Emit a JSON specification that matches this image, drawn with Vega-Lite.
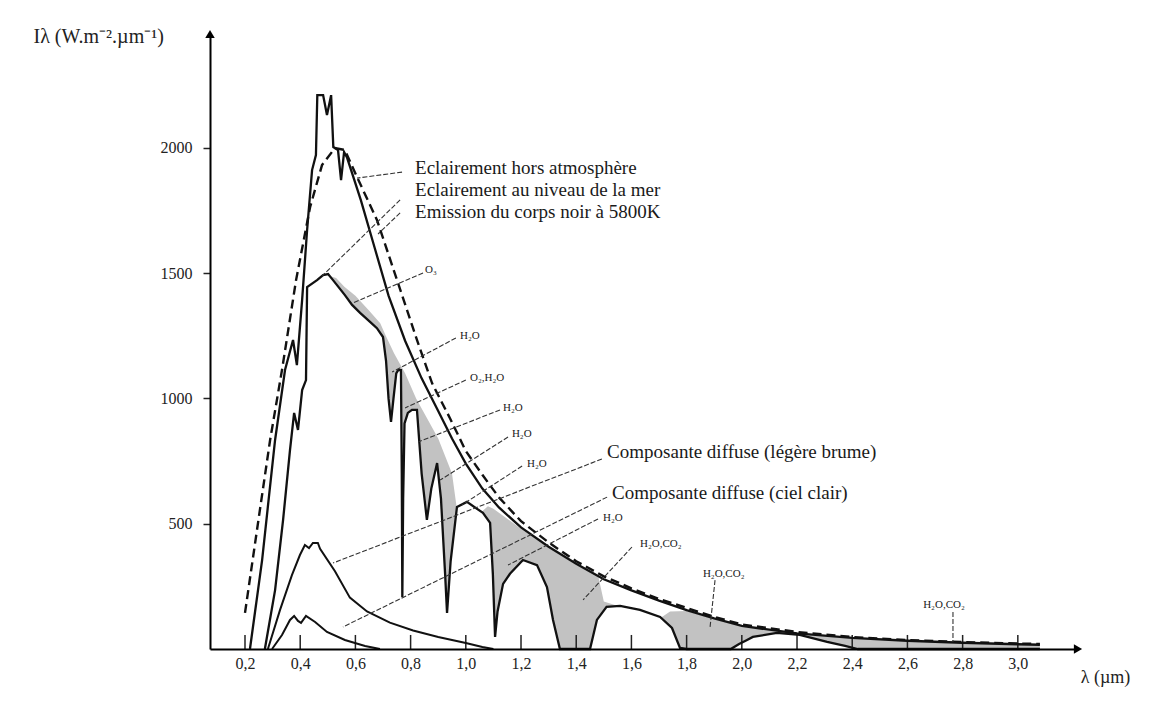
{
  "$schema": "https://vega.github.io/schema/vega-lite/v6.json",
  "autosize": {"type": "none"},
  "padding": {"left": 210, "top": 34, "right": 89, "bottom": 53},
  "width": 868,
  "height": 615,
  "background": "white",
  "config": {
    "view": {"stroke": null},
    "font": "Liberation Serif",
    "text": {"font": "Liberation Serif", "color": "#1a1a1a"}
  },
  "datasets": {
    "et": [
      {"x":0.218,"y":0},{"x":0.262,"y":355},{"x":0.309,"y":834},{"x":0.345,"y":1113},{"x":0.374,"y":1233},{"x":0.388,"y":1133},{"x":0.407,"y":1393},{"x":0.425,"y":1672},{"x":0.443,"y":1911},{"x":0.457,"y":1971},{"x":0.462,"y":2210},{"x":0.483,"y":2210},{"x":0.497,"y":2131},{"x":0.512,"y":2210},{"x":0.52,"y":2003},{"x":0.537,"y":1991},{"x":0.548,"y":1871},{"x":0.559,"y":1983},{"x":0.57,"y":1960},{"x":0.62,"y":1790},{"x":0.67,"y":1600},{"x":0.72,"y":1410},{"x":0.78,"y":1230},{"x":0.84,"y":1080},{"x":0.9,"y":950},{"x":0.95,"y":840},{"x":1.0,"y":740},{"x":1.06,"y":640},{"x":1.12,"y":565},{"x":1.2,"y":485},{"x":1.3,"y":408},{"x":1.4,"y":340},{"x":1.5,"y":278},{"x":1.6,"y":234},{"x":1.7,"y":193},{"x":1.8,"y":155},{"x":1.9,"y":122},{"x":2.0,"y":92},{"x":2.2,"y":62},{"x":2.4,"y":44},{"x":2.6,"y":33},{"x":2.8,"y":25},{"x":3.0,"y":19},{"x":3.08,"y":17}
    ],
    "bb": [
      {"x":0.2,"y":144},{"x":0.254,"y":555},{"x":0.291,"y":834},{"x":0.334,"y":1113},{"x":0.385,"y":1472},{"x":0.436,"y":1764},{"x":0.479,"y":1931},{"x":0.526,"y":1999},{"x":0.562,"y":1991},{"x":0.606,"y":1883},{"x":0.678,"y":1712},{"x":0.751,"y":1472},{"x":0.823,"y":1233},{"x":0.878,"y":1060},{"x":0.943,"y":920},{"x":1.0,"y":790},{"x":1.06,"y":695},{"x":1.12,"y":605},{"x":1.2,"y":510},{"x":1.3,"y":425},{"x":1.4,"y":350},{"x":1.5,"y":290},{"x":1.6,"y":242},{"x":1.7,"y":200},{"x":1.8,"y":164},{"x":1.9,"y":128},{"x":2.0,"y":98},{"x":2.2,"y":68},{"x":2.4,"y":48},{"x":2.6,"y":36},{"x":2.8,"y":28},{"x":3.0,"y":22},{"x":3.08,"y":20}
    ],
    "sea": [
      {"x":0.272,"y":0},{"x":0.309,"y":235},{"x":0.338,"y":515},{"x":0.363,"y":794},{"x":0.378,"y":942},{"x":0.392,"y":874},{"x":0.407,"y":1033},{"x":0.421,"y":1073},{"x":0.425,"y":1444},{"x":0.461,"y":1472},{"x":0.483,"y":1492},{"x":0.501,"y":1496},{"x":0.519,"y":1472},{"x":0.562,"y":1412},{"x":0.588,"y":1373},{"x":0.617,"y":1341},{"x":0.653,"y":1305},{"x":0.678,"y":1280},{"x":0.7,"y":1245},{"x":0.711,"y":1150},{"x":0.72,"y":1000},{"x":0.729,"y":906},{"x":0.738,"y":1000},{"x":0.748,"y":1100},{"x":0.755,"y":1113},{"x":0.765,"y":1113},{"x":0.768,"y":700},{"x":0.77,"y":207},{"x":0.773,"y":600},{"x":0.778,"y":900},{"x":0.79,"y":942},{"x":0.805,"y":954},{"x":0.823,"y":954},{"x":0.84,"y":700},{"x":0.859,"y":515},{"x":0.875,"y":640},{"x":0.896,"y":742},{"x":0.91,"y":600},{"x":0.925,"y":300},{"x":0.932,"y":144},{"x":0.945,"y":350},{"x":0.968,"y":567},{"x":1.004,"y":587},{"x":1.062,"y":543},{"x":1.088,"y":503},{"x":1.098,"y":300},{"x":1.106,"y":48},{"x":1.115,"y":150},{"x":1.135,"y":260},{"x":1.16,"y":300},{"x":1.207,"y":355},{"x":1.258,"y":335},{"x":1.294,"y":247},{"x":1.316,"y":116},{"x":1.341,"y":0},{"x":1.45,"y":0},{"x":1.475,"y":116},{"x":1.51,"y":168},{"x":1.559,"y":172},{"x":1.631,"y":156},{"x":1.704,"y":128},{"x":1.747,"y":84},{"x":1.776,"y":4},{"x":1.8,"y":0},{"x":1.96,"y":0},{"x":1.99,"y":20},{"x":2.012,"y":32},{"x":2.04,"y":48},{"x":2.127,"y":64},{"x":2.21,"y":56},{"x":2.309,"y":28},{"x":2.374,"y":12},{"x":2.42,"y":0},{"x":3.08,"y":0}
    ],
    "env": [
      {"x":0.50,"y":1490},{"x":0.53,"y":1480},{"x":0.56,"y":1445},{"x":0.6,"y":1410},{"x":0.65,"y":1350},{"x":0.69,"y":1300},{"x":0.71,"y":1250},{"x":0.74,"y":1180},{"x":0.78,"y":1100},{"x":0.82,"y":1000},{"x":0.86,"y":920},{"x":0.9,"y":840},{"x":0.95,"y":700},{"x":0.97,"y":540},{"x":1.04,"y":530},{"x":1.08,"y":570},{"x":1.1,"y":560},{"x":1.15,"y":520},{"x":1.2,"y":480},{"x":1.3,"y":405},{"x":1.4,"y":336},{"x":1.48,"y":290},{"x":1.5,"y":190},{"x":1.7,"y":120},{"x":1.74,"y":150},{"x":1.8,"y":152},{"x":1.9,"y":120},{"x":2.0,"y":90},{"x":2.2,"y":60},{"x":2.4,"y":43},{"x":2.6,"y":32},{"x":2.8,"y":24},{"x":3.0,"y":18},{"x":3.08,"y":16}
    ],
    "brume": [
      {"x":0.283,"y":0},{"x":0.327,"y":156},{"x":0.37,"y":295},{"x":0.399,"y":375},{"x":0.417,"y":415},{"x":0.432,"y":403},{"x":0.446,"y":423},{"x":0.464,"y":423},{"x":0.472,"y":400},{"x":0.526,"y":310},{"x":0.58,"y":205},{"x":0.642,"y":150},{"x":0.725,"y":105},{"x":0.809,"y":74},{"x":0.9,"y":48},{"x":1.0,"y":24},{"x":1.06,"y":8},{"x":1.1,"y":0}
    ],
    "clair": [
      {"x":0.298,"y":0},{"x":0.334,"y":56},{"x":0.363,"y":116},{"x":0.378,"y":132},{"x":0.392,"y":112},{"x":0.403,"y":104},{"x":0.421,"y":132},{"x":0.454,"y":108},{"x":0.497,"y":68},{"x":0.562,"y":36},{"x":0.635,"y":12},{"x":0.689,"y":0}
    ],
    "leaders": [
      {"x":0.769,"y":1903,"x2":0.606,"y2":1879},
      {"x":0.762,"y":1792,"x2":0.479,"y2":1488},
      {"x":0.762,"y":1740,"x2":0.682,"y2":1656},
      {"x":0.845,"y":1500,"x2":0.591,"y2":1381},
      {"x":0.964,"y":1241,"x2":0.733,"y2":1105},
      {"x":1.0,"y":1073,"x2":0.78,"y2":962},
      {"x":1.124,"y":954,"x2":0.827,"y2":826},
      {"x":1.153,"y":846,"x2":0.907,"y2":674},
      {"x":1.204,"y":730,"x2":0.986,"y2":575},
      {"x":1.479,"y":519,"x2":1.153,"y2":335},
      {"x":1.602,"y":407,"x2":1.425,"y2":196},
      {"x":1.903,"y":275,"x2":1.885,"y2":88},
      {"x":2.765,"y":148,"x2":2.765,"y2":28},
      {"x":1.493,"y":758,"x2":0.519,"y2":343},
      {"x":1.512,"y":606,"x2":0.555,"y2":88}
    ],
    "bigLabels": [
      {"x":0.816,"y":1919,"label":"Eclairement hors atmosphère"},
      {"x":0.816,"y":1831,"label":"Eclairement au niveau de la mer"},
      {"x":0.816,"y":1744,"label":"Emission du corps noir à 5800K"},
      {"x":1.512,"y":786,"label":"Composante diffuse (légère brume)"},
      {"x":1.53,"y":622,"label":"Composante diffuse (ciel clair)"}
    ],
    "smallLabels": [
      {"x":0.852,"y":1512,"label":"O₃"},
      {"x":0.979,"y":1249,"label":"H₂O"},
      {"x":1.015,"y":1081,"label":"O₂,H₂O"},
      {"x":1.135,"y":962,"label":"H₂O"},
      {"x":1.167,"y":858,"label":"H₂O"},
      {"x":1.222,"y":738,"label":"H₂O"},
      {"x":1.497,"y":523,"label":"H₂O"},
      {"x":1.631,"y":419,"label":"H₂O,CO₂"},
      {"x":1.859,"y":299,"label":"H₂O,CO₂"},
      {"x":2.657,"y":176,"label":"H₂O,CO₂"}
    ],
    "ticks": [
      {"x":0.2,"y":0},{"x":0.4,"y":0},{"x":0.6,"y":0},{"x":0.8,"y":0},{"x":1.0,"y":0},{"x":1.2,"y":0},{"x":1.4,"y":0},{"x":1.6,"y":0},{"x":1.8,"y":0},{"x":2.0,"y":0},{"x":2.2,"y":0},{"x":2.4,"y":0},{"x":2.6,"y":0},{"x":2.8,"y":0},{"x":3.0,"y":0}
    ],
    "yEnd": [{"x":0.0732,"y":2454}],
    "xEnd": [{"x":3.218,"y":0}]
  },
  "encoding": {
    "x": {
      "field": "x", "type": "quantitative",
      "scale": {"domain": [0.0732, 3.218], "nice": false, "zero": false},
      "axis": {
        "values": [0.2,0.4,0.6,0.8,1.0,1.2,1.4,1.6,1.8,2.0,2.2,2.4,2.6,2.8,3.0],
        "labelExpr": "replace(format(datum.value, '.1f'), '.', ',')",
        "grid": false, "zindex": 1, "ticks": false,
        "domainColor": "#000", "domainWidth": 2,
        "labelPadding": 6, "labelFont": "Liberation Serif", "labelFontSize": 16, "labelColor": "#222",
        "labelFlush": false, "labelOverlap": false,
        "title": "λ (µm)", "titleFont": "Liberation Serif", "titleFontSize": 18, "titleFontWeight": "normal", "titleColor": "#222",
        "titleX": 895, "titleY": 28, "titleAlign": "center", "titleBaseline": "middle"
      }
    },
    "y": {
      "field": "y", "type": "quantitative",
      "scale": {"domain": [0, 2454], "nice": false},
      "axis": {
        "values": [500, 1000, 1500, 2000],
        "format": "d",
        "grid": false, "zindex": 1,
        "domainColor": "#000", "domainWidth": 2,
        "tickColor": "#222", "tickWidth": 1.5, "tickSize": 7,
        "labelPadding": 11, "labelFont": "Liberation Serif", "labelFontSize": 16, "labelColor": "#222",
        "title": "Iλ (W.m⁻².µm⁻¹)", "titleFont": "Liberation Serif", "titleFontSize": 20, "titleFontWeight": "normal", "titleColor": "#222",
        "titleAngle": 0, "titleX": -177, "titleY": 2, "titleAlign": "left", "titleBaseline": "middle"
      }
    }
  },
  "layer": [
    {"data": {"name": "env"}, "mark": {"type": "area", "color": "#c2c2c2", "opacity": 1}},
    {"data": {"name": "sea"}, "mark": {"type": "area", "color": "white", "opacity": 1}},
    {"data": {"name": "ticks"}, "mark": {"type": "rule", "color": "#222", "strokeWidth": 1.5, "opacity": 1},
     "encoding": {"y2": {"datum": 56}}},
    {"data": {"name": "bb"}, "mark": {"type": "line", "color": "#111", "strokeWidth": 2.4, "strokeDash": [9, 5]}},
    {"data": {"name": "et"}, "mark": {"type": "line", "color": "#111", "strokeWidth": 2.3}},
    {"data": {"name": "sea"}, "mark": {"type": "line", "color": "#111", "strokeWidth": 2.3}},
    {"data": {"name": "brume"}, "mark": {"type": "line", "color": "#111", "strokeWidth": 2}},
    {"data": {"name": "clair"}, "mark": {"type": "line", "color": "#111", "strokeWidth": 2}},
    {"data": {"name": "leaders"}, "mark": {"type": "rule", "color": "#333", "strokeWidth": 1.1, "strokeDash": [5, 2]},
     "encoding": {"x2": {"field": "x2"}, "y2": {"field": "y2"}}},
    {"data": {"name": "bigLabels"}, "mark": {"type": "text", "align": "left", "baseline": "middle", "fontSize": 19, "font": "Liberation Serif", "color": "#1a1a1a"},
     "encoding": {"text": {"field": "label"}}},
    {"data": {"name": "smallLabels"}, "mark": {"type": "text", "align": "left", "baseline": "middle", "fontSize": 11, "font": "Liberation Serif", "color": "#1a1a1a"},
     "encoding": {"text": {"field": "label"}}},
    {"data": {"name": "yEnd"}, "mark": {"type": "point", "shape": "triangle-up", "filled": true, "color": "#000", "size": 90, "opacity": 1}},
    {"data": {"name": "xEnd"}, "mark": {"type": "point", "shape": "triangle-right", "filled": true, "color": "#000", "size": 90, "opacity": 1}}
  ]
}
